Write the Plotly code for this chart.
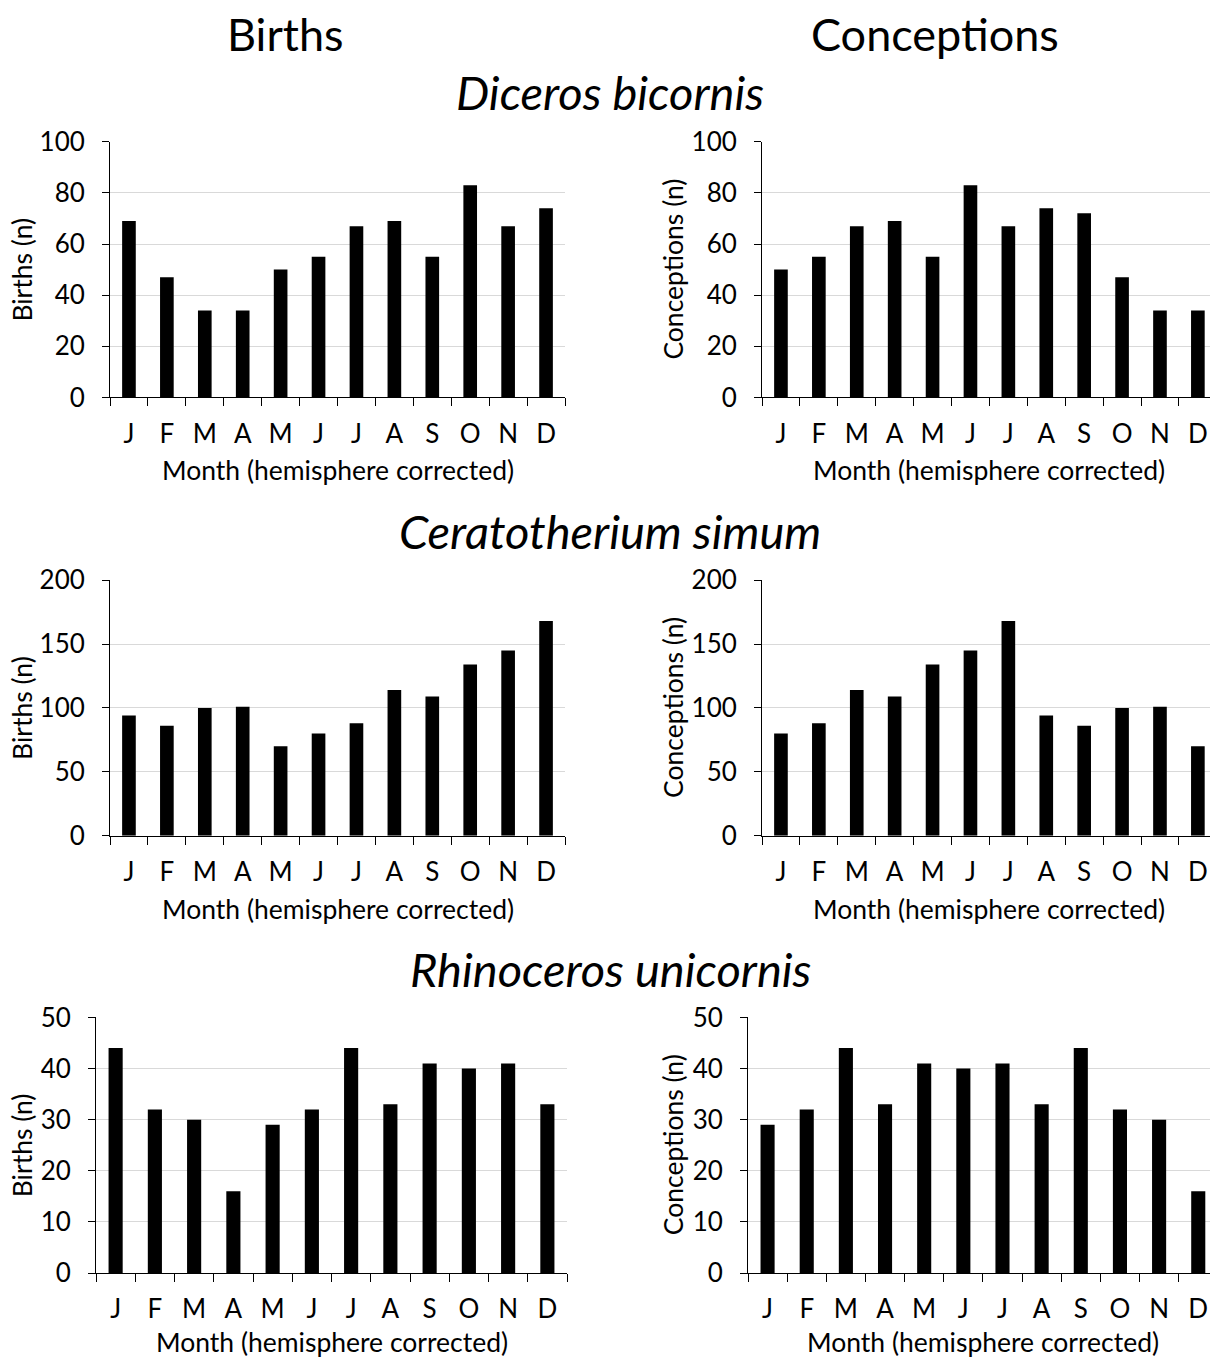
import plotly.graph_objects as go

# ---------------- data ----------------
months = ["J", "F", "M", "A", "M", "J", "J", "A", "S", "O", "N", "D"]

diceros_births = [69, 47, 34, 34, 50, 55, 67, 69, 55, 83, 67, 74]
diceros_conceptions = [50, 55, 67, 69, 55, 83, 67, 74, 72, 47, 34, 34]
cerato_births = [94, 86, 100, 101, 70, 80, 88, 114, 109, 134, 145, 168]
cerato_conceptions = [80, 88, 114, 109, 134, 145, 168, 94, 86, 100, 101, 70]
rhino_births = [44, 32, 30, 16, 29, 32, 44, 33, 41, 40, 41, 33]
rhino_conceptions = [29, 32, 44, 33, 41, 40, 41, 33, 44, 32, 30, 16]

column_titles = ["Births", "Conceptions"]
species_titles = ["Diceros bicornis", "Ceratotherium simum", "Rhinoceros unicornis"]
y_titles = ["Births (n)", "Conceptions (n)"]
x_title = "Month (hemisphere corrected)"
y_max = [100, 200, 50]
y_step = [20, 50, 10]

series = [
    [diceros_births, diceros_conceptions],
    [cerato_births, cerato_conceptions],
    [rhino_births, rhino_conceptions],
]

# ---------------- layout geometry (pixels) ----------------
W, H = 1210, 1360
FONT = "Lato"
TICK_SIZE = 26
TITLE_SIZE = 26.5
HEADER_SIZE = 45
SPECIES_SIZE = 47
row_px = [(140, 396), (579, 835), (1017, 1273)]           # top, bottom of plot area
col_px = [
    [(110, 565, 11.5), (762, 1210, 11.32)],
    [(110, 565, 11.5), (762, 1210, 11.32)],
    [(96, 567, 11.5), (748, 1210, 11.30)],
]
ytitle_x = [22, 673]
header_pos = [(285, 32), (935, 32)]
species_y = [90, 530, 968]
xtitle_offset = [73, 73, 69]
# vertical calibration of the page capture
V_OFF, V_SCALE = 15.0, 0.978

def px_x(p):
    return p / W

def px_y(p):
    return 1 - ((p - V_OFF) / V_SCALE) / H

fig = go.Figure()
annotations = []
n = len(months)
xs = list(range(n))
boundaries = [i - 0.5 for i in range(n + 1)]

k = 0
for r in range(3):
    for c in range(2):
        k += 1
        xa = "x" if k == 1 else f"x{k}"
        ya = "y" if k == 1 else f"y{k}"
        fig.add_trace(go.Bar(
            x=xs, y=series[r][c], xaxis=xa, yaxis=ya,
            marker=dict(color="black", line=dict(width=0)),
            width=0.36, showlegend=False,
        ))
        x0, x1, xmax = col_px[r][c]
        t, b = row_px[r]
        xkey = "xaxis" if k == 1 else f"xaxis{k}"
        ykey = "yaxis" if k == 1 else f"yaxis{k}"
        fig.layout[xkey] = dict(
            domain=[px_x(x0), px_x(x1)], anchor=ya,
            range=[-0.5, xmax], tickmode="array", tickvals=xs, ticktext=months,
            ticks="", showgrid=False, zeroline=False,
            showline=True, linecolor="black", linewidth=1,
            tickfont=dict(family=FONT, size=TICK_SIZE, color="black"),
            ticklabelstandoff=13,
            minor=dict(tickmode="array", tickvals=boundaries, ticks="outside",
                       ticklen=8, tickcolor="black", tickwidth=1, showgrid=False),
            fixedrange=True,
        )
        fig.layout[ykey] = dict(
            domain=[px_y(b), px_y(t)], anchor=xa,
            range=[0, y_max[r]], dtick=y_step[r], tick0=0,
            ticks="outside", ticklen=7, tickcolor="black", tickwidth=1,
            showgrid=True, gridcolor="#d9d9d9", gridwidth=1,
            zeroline=False, showline=True, linecolor="black", linewidth=1,
            tickfont=dict(family=FONT, size=TICK_SIZE, color="black"),
            ticklabelstandoff=12,
            fixedrange=True,
        )
        # x axis title, centred on the full category span
        full_right = x0 + (x1 - x0) * 12 / (xmax + 0.5)
        annotations.append(dict(
            text=x_title, x=px_x((x0 + full_right) / 2),
            y=px_y(b + xtitle_offset[r]), xref="paper", yref="paper",
            xanchor="center", yanchor="middle", showarrow=False,
            font=dict(family=FONT, size=TITLE_SIZE, color="black"),
        ))
        # y axis title
        annotations.append(dict(
            text=y_titles[c], x=px_x(ytitle_x[c]), y=px_y((t + b) / 2),
            xref="paper", yref="paper", xanchor="center", yanchor="middle",
            textangle=-90, showarrow=False,
            font=dict(family=FONT, size=TITLE_SIZE, color="black"),
        ))

# column headers
for c, title in enumerate(column_titles):
    hx, hy = header_pos[c]
    annotations.append(dict(
        text=title, x=px_x(hx), y=px_y(hy),
        xref="paper", yref="paper", xanchor="center", yanchor="middle",
        showarrow=False, font=dict(family=FONT, size=HEADER_SIZE, color="black"),
    ))

# species titles
for r, title in enumerate(species_titles):
    annotations.append(dict(
        text=f"<i>{title}</i>", x=px_x(610), y=px_y(species_y[r]),
        xref="paper", yref="paper", xanchor="center", yanchor="middle",
        showarrow=False, font=dict(family=FONT, size=SPECIES_SIZE, color="black"),
    ))

fig.update_layout(
    width=W, height=H,
    margin=dict(l=0, r=0, t=0, b=0),
    paper_bgcolor="white", plot_bgcolor="white",
    annotations=annotations,
)

fig.write_html(
    "out.html",
    config={"displayModeBar": False},
    post_script="document.body.style.margin='0';document.body.style.overflow='hidden';",
)
